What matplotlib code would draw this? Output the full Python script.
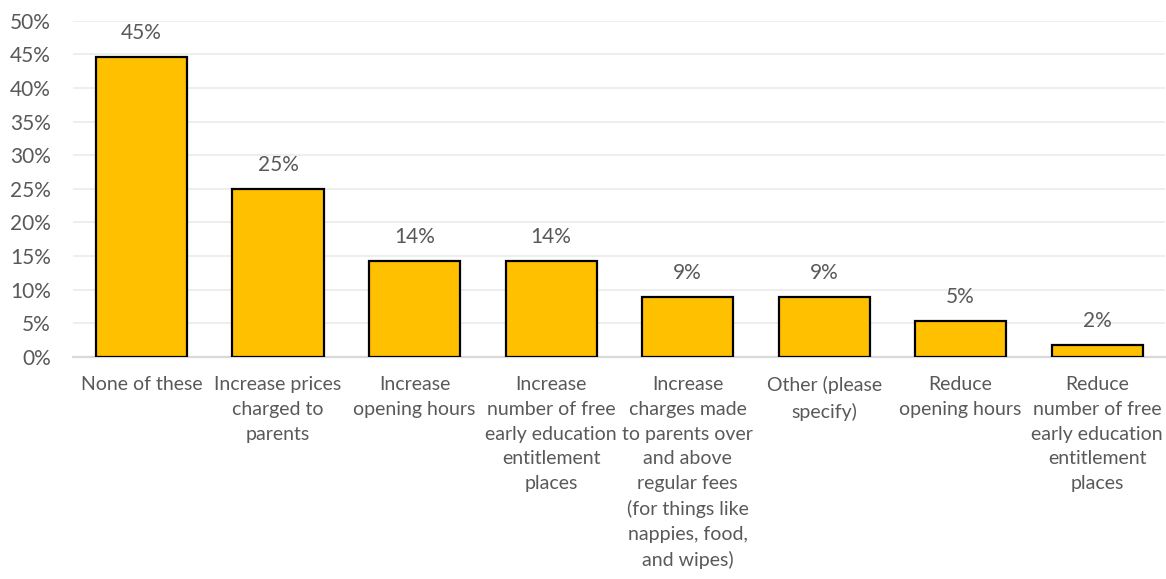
import matplotlib
matplotlib.use("Agg")
import matplotlib.pyplot as plt
from matplotlib.ticker import FuncFormatter

categories = [
    "None of these",
    "Increase prices\ncharged to\nparents",
    "Increase\nopening hours",
    "Increase\nnumber of free\nearly education\nentitlement\nplaces",
    "Increase\ncharges made\nto parents over\nand above\nregular fees\n(for things like\nnappies, food,\nand wipes)",
    "Other (please\nspecify)",
    "Reduce\nopening hours",
    "Reduce\nnumber of free\nearly education\nentitlement\nplaces",
]
shares = [0.446, 0.250, 0.142, 0.142, 0.089, 0.089, 0.053, 0.018]
y_ticks = [0.0, 0.05, 0.10, 0.15, 0.20, 0.25, 0.30, 0.35, 0.40, 0.45, 0.50]

plt.rcParams["font.family"] = ["Lato", "DejaVu Sans"]
text_color = "#595959"
num_fs = 15
cat_fs = 14

fig = plt.figure(figsize=(11.66, 5.79), dpi=100)
ax = fig.add_axes([0.0628, 0.384, 0.9367, 0.580])

x = range(len(categories))
ax.bar(x, shares, width=0.667, color="#FFC000", edgecolor="black",
       linewidth=1.6, zorder=3)

for xi, v in zip(x, shares):
    ax.annotate(f"{v:.0%}", (xi, v), xytext=(0, 10), textcoords="offset points",
                ha="center", va="bottom", fontsize=num_fs, color=text_color)

ax.set_xlim(-0.5, len(categories) - 0.5)
ax.set_ylim(0, 0.5)
ax.set_yticks(y_ticks)
ax.yaxis.set_major_formatter(FuncFormatter(lambda v, _: f"{v:.0%}"))
ax.set_xticks(list(x))
ax.set_xticklabels(categories, fontsize=cat_fs, color=text_color, linespacing=1.55)

ax.grid(axis="y", color="#EDEDED", linewidth=1.3, zorder=0)
for side in ("top", "right", "left"):
    ax.spines[side].set_visible(False)
ax.spines["bottom"].set_color("#D9D9D9")
ax.spines["bottom"].set_linewidth(1.6)
ax.tick_params(axis="both", length=0, colors=text_color)
ax.tick_params(axis="y", labelsize=num_fs, pad=16)
ax.tick_params(axis="x", labelsize=cat_fs, pad=14)

fig.savefig("out.png", dpi=100, facecolor="white")
